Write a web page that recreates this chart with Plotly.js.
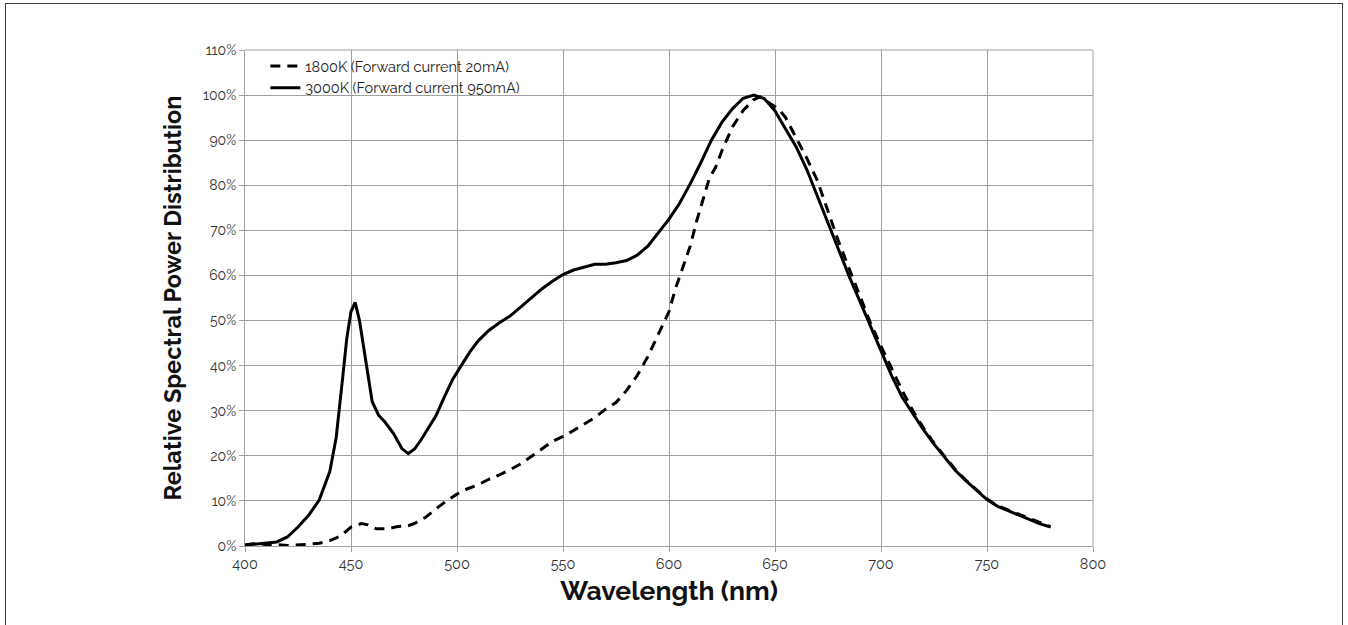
<!DOCTYPE html>
<html>
<head>
<meta charset="utf-8">
<script src="https://cdn.plot.ly/plotly-3.0.1.min.js"></script>
<style>
html,body{margin:0;padding:0;background:#fff;}
#wrap{position:relative;width:1348px;height:625px;overflow:hidden;}
#chart{position:absolute;left:0;top:0;width:1348px;height:625px;}
#frame{position:absolute;left:5px;top:3px;width:1336px;height:700px;border:1px solid #444;pointer-events:none;}
</style>
</head>
<body>
<div id="wrap"><div id="chart"></div><div id="frame"></div></div>
<script>
// 1800K (Forward current 20mA)
const wl1800 = [400,405,410,415,420,425,430,435,440,445,450,455,458,462,467,472,477,480,485,490,495,500,505,510,515,520,525,530,535,540,545,550,555,560,565,570,575,580,585,590,595,600,603,606,610,613,616,619,622,625,630,635,640,643,645,648,652,655,660,665,670,675,680,685,690,695,700,705,710,715,720,725,730,735,740,745,750,755,760,765,770,775,780];
const spd1800 = [0.2,0.6,0.3,0.3,0.1,0.2,0.4,0.6,1.2,2.2,4.2,5.0,4.7,3.8,3.8,4.3,4.5,5.0,6.3,8.2,10.0,11.5,12.7,13.6,14.8,15.8,16.9,18.2,19.8,21.5,23.2,24.3,25.6,27.1,28.5,30.3,31.8,34.5,37.8,42,47,52,57,61,66.5,72,77,81.5,84,87.7,93,96.6,99,99.6,99.2,98,96.8,95,90.5,86,81,74,67.5,61.5,55.5,49.5,44.3,39.3,34.5,30,26.2,22.8,19.8,17,14.6,12.4,10.4,8.9,8,7,6.2,5.3,4.3];

// 3000K (Forward current 950mA)
const wl3000 = [400,405,410,415,420,425,430,435,440,443,446,448,450,452,454,456,458,460,463,466,470,474,477,480,483,487,490,494,498,502,506,510,515,520,525,530,535,540,545,550,555,560,565,570,575,580,585,590,595,600,605,610,615,620,625,630,635,640,645,650,655,660,665,670,675,680,685,690,695,700,705,710,715,720,725,730,735,740,745,750,755,760,765,770,775,780];
const spd3000 = [0.2,0.4,0.6,0.9,2.0,4.2,6.8,10.2,16.5,24,37,46,52,54,50,44,37,32,29,27.5,25,21.6,20.5,21.5,23.5,26.5,28.8,33,37,40,43,45.5,47.8,49.5,51,53,55,57,58.7,60.2,61.2,61.8,62.5,62.5,62.8,63.3,64.5,66.5,69.5,72.5,76,80.3,85,90,94,97,99.3,100,99.2,96.5,92.5,88.5,83.5,77.5,71.5,65.5,59.8,54.3,48.8,43.5,37.8,33,29.3,25.8,22.6,19.6,16.8,14.5,12.3,10.3,8.8,7.8,6.8,5.8,4.9,4.2];

const xTicks = [400,450,500,550,600,650,700,750,800];
const yTicks = [0,10,20,30,40,50,60,70,80,90,100,110];
const yTickText = yTicks.map(v => v + '%');

const FONT = 'Raleway, Lato, "Open Sans", sans-serif';

const traces = [
  {x: wl1800, y: spd1800, type: 'scatter', mode: 'lines', name: '1800K (Forward current 20mA)',
   line: {color: '#000', width: 3, dash: '10px,7px'}},
  {x: wl3000, y: spd3000, type: 'scatter', mode: 'lines', name: '3000K (Forward current 950mA)',
   line: {color: '#000', width: 3}}
];

const layout = {
  width: 1348, height: 625,
  margin: {l: 245, r: 255, t: 50, b: 79},
  paper_bgcolor: '#fff', plot_bgcolor: '#fff',
  showlegend: true,
  legend: {x: 0.024, y: 1.0, xanchor: 'left', yanchor: 'top', bgcolor: 'rgba(0,0,0,0)',
           font: {family: FONT, size: 14.5, color: '#222'}, tracegroupgap: 0},
  xaxis: {
    range: [400, 800], tickvals: xTicks, ticktext: xTicks.map(String),
    showgrid: true, gridcolor: '#a0a0a0', gridwidth: 1,
    showline: true, linecolor: '#a0a0a0', linewidth: 1,
    ticks: 'outside', ticklen: 5, tickcolor: '#a0a0a0',
    zeroline: false,
    tickfont: {family: FONT, size: 14.5, color: '#333'},
    title: {text: '<b>Wavelength (nm)</b>', font: {family: FONT, size: 26.5, color: '#111'}, standoff: 10}
  },
  yaxis: {
    range: [0, 110], tickvals: yTicks, ticktext: yTickText,
    showgrid: true, gridcolor: '#a0a0a0', gridwidth: 1,
    showline: true, linecolor: '#a0a0a0', linewidth: 1,
    ticks: 'outside', ticklen: 5, tickcolor: '#a0a0a0',
    zeroline: false,
    tickfont: {family: FONT, size: 14, color: '#333'},
    title: {text: '<b>Relative Spectral Power Distribution</b>', font: {family: FONT, size: 23.5, color: '#111'}, standoff: 14}
  },
  shapes: [
    {type: 'line', xref: 'paper', yref: 'paper', x0: 1, x1: 1, y0: 0, y1: 1, line: {color: '#a0a0a0', width: 1}},
    {type: 'line', xref: 'paper', yref: 'paper', x0: 0, x1: 1, y0: 1, y1: 1, line: {color: '#a0a0a0', width: 1}}
  ]
};

Plotly.newPlot('chart', traces, layout, {displayModeBar: false, staticPlot: true});
</script>
</body>
</html>
